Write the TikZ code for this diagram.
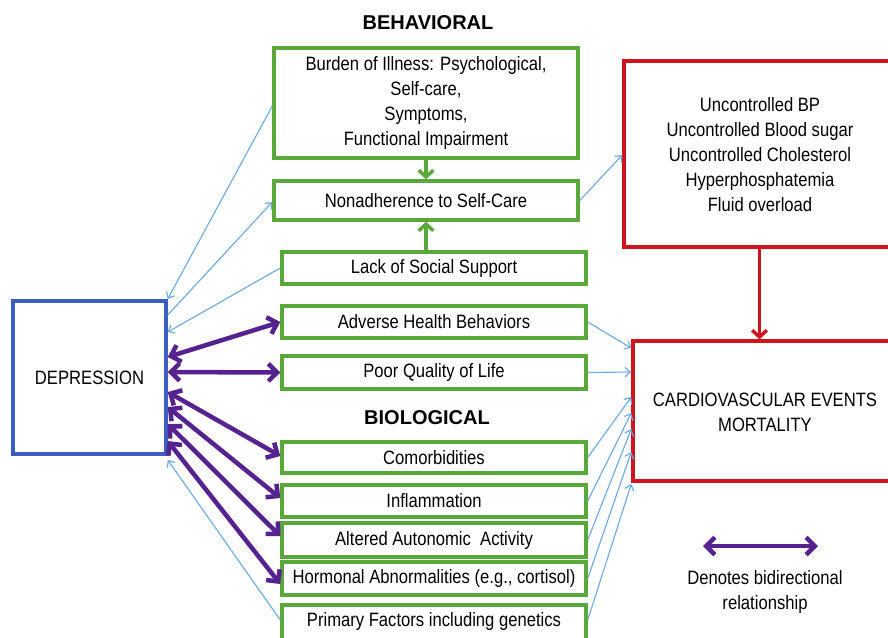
\documentclass[tikz,border=0pt]{standalone}
\usepackage{fontspec}
\setmainfont{Liberation Sans}[FakeStretch=0.86]
\newfontfamily\headfont{Liberation Sans}
\usetikzlibrary{arrows.meta,fit,calc}
\definecolor{gbord}{HTML}{58A83A}
\definecolor{bbord}{HTML}{3A5FC0}
\definecolor{rbord}{HTML}{D0141E}
\definecolor{lblue}{HTML}{6AAAE8}
\definecolor{purp}{HTML}{55228F}
\tikzset{
  x=0.75pt, y=-0.75pt,
  every node/.style={font=\fontsize{14.5}{18.75}\selectfont, align=center, inner sep=0pt},
  gbox/.style={draw=gbord, line width=2.6pt},
  bbox/.style={draw=bbord, line width=2.6pt},
  rbox/.style={draw=rbord, line width=2.6pt},
  head/.style={font=\headfont\bfseries\fontsize{15}{18}\selectfont},
  thin/.style={draw=lblue, line width=0.85pt, -{Straight Barb[length=4pt,width=7pt]}},
  bidir/.style={draw=purp, line width=3.4pt, {Straight Barb[length=6.5pt,width=13pt]}-{Straight Barb[length=6.5pt,width=13pt]}},
  garrow/.style={draw=gbord, line width=2.6pt, -{Straight Barb[length=5pt,width=11pt]}},
  rarrow/.style={draw=rbord, line width=2.6pt, -{Straight Barb[length=5pt,width=11pt]}},
}
\begin{document}
\begin{tikzpicture}
\useasboundingbox (0,0) rectangle (888,637);
\clip (0,0) rectangle (888,637);
\fill[white] (0,0) rectangle (888,637);

\node[head] (behav) at (428,23) {BEHAVIORAL};
\node[head] (biol) at (427,418) {BIOLOGICAL};

\node[bbox, fit={(13,301) (166,454)}] (dep) {};
\node (dept) at (dep.center) {DEPRESSION};

\node[gbox, fit={(274,48) (578,158)}] (burden) {};
\node (burdent) at (burden.center) {Burden of Illness: Psychological,\\Self-care,\\Symptoms,\\Functional Impairment};
\node[gbox, fit={(274,181) (578,220)}] (nonad) {};
\node (nonadt) at (nonad.center) {Nonadherence to Self-Care};
\node[gbox, fit={(282,252) (586,284)}] (lack) {};
\node (lackt) at (lack.center) {Lack of Social Support};
\node[gbox, fit={(282,306) (586,338)}] (adverse) {};
\node (adverset) at (adverse.center) {Adverse Health Behaviors};
\node[gbox, fit={(282,356) (586,389)}] (qol) {};
\node (qolt) at (qol.center) {Poor Quality of Life};
\node[gbox, fit={(282,442) (586,473)}] (comorb) {};
\node (comorbt) at (comorb.center) {Comorbidities};
\node[gbox, fit={(282,485) (586,517)}] (infl) {};
\node (inflt) at (infl.center) {Inflammation};
\node[gbox, fit={(282,523) (586,557)}] (auto) {};
\node (autot) at (auto.center) {Altered Autonomic\ \ Activity};
\node[gbox, fit={(282,562) (586,595)}] (horm) {};
\node (hormt) at (horm.center) {Hormonal Abnormalities (e.g., cortisol)};
\node[gbox, fit={(282,605) (586,640)}] (prim) {};
\node (primt) at (282/2+586/2,621) {Primary Factors including genetics};

\node[rbox, fit={(624,61) (895,247)}] (redtop) {};
\node (redtopt) at (760,155) {Uncontrolled BP\\Uncontrolled Blood sugar\\Uncontrolled Cholesterol\\Hyperphosphatemia\\Fluid overload};
\node[rbox, fit={(633,341) (895,481)}] (cv) {};
\node (cvt) at (765,412) {CARDIOVASCULAR EVENTS\\MORTALITY};

\coordinate (lg1) at (703,546);
\coordinate (lg2) at (818,546);
\node (lgt) at (765,592) {Denotes bidirectional\\relationship};

% green arrows
\draw[garrow] (burden.south) -- (nonad.north);
\draw[garrow] (nonad.south |- lack.north) -- (nonad.south);
% red arrow
\draw[rarrow] (redtop.south) -- (redtop.south |- cv.north);

% thin blue arrows
\draw[thin] (burden.west |- 0,106) -- (dep.east |- 0,299);
\draw[thin] (dep.east |- 0,315) -- (nonad.west |- 0,202);
\draw[thin] (lack.west) -- (dep.east |- 0,332);
\draw[thin] (prim.west |- 0,620) -- (dep.east |- 0,460);
\draw[thin] (nonad.east) -- (redtop.west |- 0,155);
\draw[thin] (adverse.east) -- (cv.west |- 0,348);
\draw[thin] (qol.east) -- (cv.west |- 0,372);
\draw[thin] (comorb.east) -- (cv.west |- 0,397);
\draw[thin] (infl.east) -- (cv.west |- 0,413);
\draw[thin] (auto.east) -- (cv.west |- 0,429);
\draw[thin] (horm.east) -- (cv.west |- 0,452);
\draw[thin] (prim.east |- 0,620) -- (cv.west |- 0,484);

% purple bidirectional arrows
\draw[bidir] (dep.east |- 0,357) -- (adverse.west);
\draw[bidir] (dep.east |- 0,372) -- (qol.west);
\draw[bidir] (dep.east |- 0,392) -- (comorb.west |- 0,456);
\draw[bidir] (dep.east |- 0,407) -- (infl.west |- 0,498);
\draw[bidir] (dep.east |- 0,424) -- (auto.west |- 0,536);
\draw[bidir] (dep.east |- 0,441) -- (horm.west |- 0,584);
\draw[bidir] (lg1) -- (lg2);
\end{tikzpicture}
\end{document}
